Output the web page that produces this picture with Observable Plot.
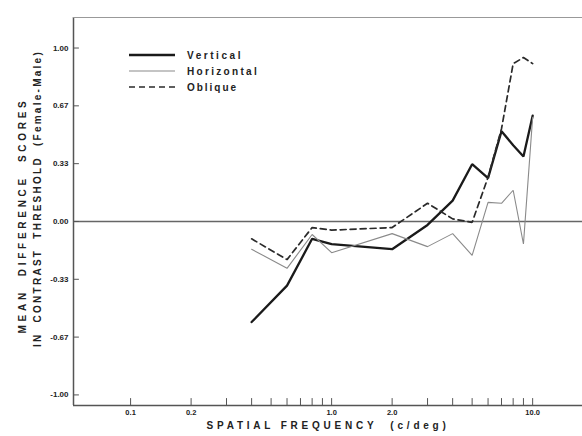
<!DOCTYPE html>
<html>
<head>
<meta charset="utf-8">
<script src="https://cdn.jsdelivr.net/npm/d3@7"></script>
<script src="https://cdn.jsdelivr.net/npm/@observablehq/plot@0.6"></script>
<style>
  html, body { margin: 0; padding: 0; background: #fff; }
  #chart { width: 582px; height: 436px; }
</style>
</head>
<body>
<div id="chart"></div>
<script>
// Spatial frequencies (c/deg)
const frequencies = [0.4, 0.6, 0.8, 1.0, 2, 3, 4, 5, 6, 7, 8, 9, 10];
// Mean difference scores (Female - Male)
const vertical   = [-0.58, -0.37, -0.10, -0.13, -0.16, -0.02, 0.12, 0.33, 0.25, 0.52, 0.44, 0.375, 0.61];
const horizontal = [-0.16, -0.27, -0.075, -0.18, -0.07, -0.145, -0.07, -0.195, 0.11, 0.105, 0.18, -0.13, 0.60];
const oblique    = [-0.10, -0.22, -0.035, -0.05, -0.035, 0.105, 0.015, -0.005, 0.255, 0.535, 0.91, 0.945, 0.91];
const seriesNames = ["Vertical", "Horizontal", "Oblique"];

const xTicks = [0.1, 0.2, 0.3, 0.4, 0.5, 0.6, 0.7, 0.8, 0.9, 1, 2, 3, 4, 5, 6, 7, 8, 9, 10];
const xTickLabels = [0.1, 0.2, 0.3, 0.4, 0.6, 0.8, 1, 2, 3, 4, 6, 8, 10];
const yTicks = [1, 2/3, 1/3, 0, -1/3, -2/3, -1];
const yTickText = ["1.00", "0.67", "0.33", "0.00", "-0.33", "-0.67", "-1.00"];

const rows = [];
frequencies.forEach((f, i) => {
  rows.push({freq: f, value: vertical[i], series: seriesNames[0]});
  rows.push({freq: f, value: horizontal[i], series: seriesNames[1]});
  rows.push({freq: f, value: oblique[i], series: seriesNames[2]});
});
const styles = {
  Vertical:   {stroke: "#1a1a1a", strokeWidth: 2.3, dash: null},
  Horizontal: {stroke: "#8a8a8a", strokeWidth: 1.1, dash: null},
  Oblique:    {stroke: "#2a2a2a", strokeWidth: 1.7, dash: "6,4"}
};

const tickShape = {draw(context, l) { context.moveTo(0, 0); context.lineTo(0, -l); }};
const axisColor = "#555";
const font = "'Liberation Sans', Arial, sans-serif";
const xTitle = "SPATIAL FREQUENCY  (c/deg)";
const yTitle1 = "MEAN  DIFFERENCE  SCORES";
const yTitle2 = "IN  CONTRAST  THRESHOLD  (Female-Male)";
const titleLengths = {[xTitle]: 243, [yTitle1]: 236, [yTitle2]: 297};

const plot = Plot.plot({
  width: 582,
  height: 436,
  marginLeft: 73,
  marginTop: 17,
  marginBottom: 31,
  marginRight: 0,
  style: {background: "#fff", fontFamily: font},
  x: {type: "log", domain: [0.052, 17.7]},
  y: {domain: [-1.061, 1.176]},
  marks: [
    // frame lines
    Plot.ruleX([0.052], {stroke: axisColor, strokeWidth: 1.5}),
    Plot.ruleY([1.176], {stroke: "#999", strokeWidth: 1}),
    Plot.ruleY([-1.061], {stroke: axisColor, strokeWidth: 1.5}),
    Plot.ruleY([0], {stroke: "#666", strokeWidth: 1.6}),
    // x ticks (inside, pointing up)
    Plot.vectorX(xTicks, {x: d => d, frameAnchor: "bottom", length: 7, anchor: "start", shape: tickShape, stroke: axisColor, strokeWidth: 1}),
    // y ticks (pointing right from the axis)
    Plot.vectorY(yTicks, {y: d => d, frameAnchor: "left", length: 5, rotate: 90, anchor: "start", shape: tickShape, stroke: axisColor, strokeWidth: 1}),
    Plot.axisX(xTickLabels, {tickSize: 0, tickPadding: 4, fontSize: 7.5, fontWeight: "bold", fill: "#222",
      tickFormat: d => d.toFixed(1), label: null}),
    Plot.axisY(yTicks, {tickSize: 0, tickPadding: 5, fontSize: 8, fontWeight: "bold", fill: "#222",
      tickFormat: (d, i) => yTickText[i], label: null}),
    // series
    ...seriesNames.map(name => Plot.line(rows.filter(r => r.series === name), {
      x: "freq", y: "value",
      stroke: styles[name].stroke, strokeWidth: styles[name].strokeWidth,
      strokeDasharray: styles[name].dash, strokeLinejoin: "miter"
    })),
    // axis titles (start-anchored, offset by half their spaced length)
    Plot.text([xTitle], {frameAnchor: "bottom", textAnchor: "start", dx: -titleLengths[xTitle] / 2, dy: 23,
      fontSize: 10, fontWeight: "bold", fill: "#222"}),
    Plot.text([yTitle1], {frameAnchor: "left", textAnchor: "start", dx: -51, dy: 4 + titleLengths[yTitle1] / 2, rotate: -90,
      fontSize: 10, fontWeight: "bold", fill: "#222"}),
    Plot.text([yTitle2], {frameAnchor: "left", textAnchor: "start", dx: -36, dy: -13 + titleLengths[yTitle2] / 2, rotate: -90,
      fontSize: 10, fontWeight: "bold", fill: "#222"})
  ]
});

document.getElementById("chart").appendChild(plot);

// widen letter spacing so each text spans the same length as in the reference
function fit(el, target) {
  el.style.whiteSpace = "pre";
  el.style.letterSpacing = "0px";
  const n = el.textContent.length;
  const w = el.getComputedTextLength();
  el.style.letterSpacing = ((target - w) / n).toFixed(2) + "px";
}
const svg = d3.select(plot);
svg.selectAll("text").each(function() {
  const t = this.textContent;
  if (titleLengths[t]) fit(this, titleLengths[t]);
});

// legend inside the plot area
const legendRows = [55, 71, 87];
const legendWidths = [56, 72, 51];
const lg = svg.append("g").attr("font-family", font).attr("text-anchor", "start");
seriesNames.forEach((name, i) => {
  const s = styles[name];
  lg.append("line").attr("x1", 129).attr("x2", 175).attr("y1", legendRows[i]).attr("y2", legendRows[i])
    .attr("stroke", s.stroke).attr("stroke-width", s.strokeWidth).attr("stroke-dasharray", s.dash);
  const tx = lg.append("text").attr("x", 187).attr("y", legendRows[i]).attr("dy", "0.35em")
    .attr("text-anchor", "start")
    .attr("font-size", 10).attr("font-weight", "bold").attr("fill", "#222").text(name);
  fit(tx.node(), legendWidths[i]);
});
</script>
</body>
</html>
